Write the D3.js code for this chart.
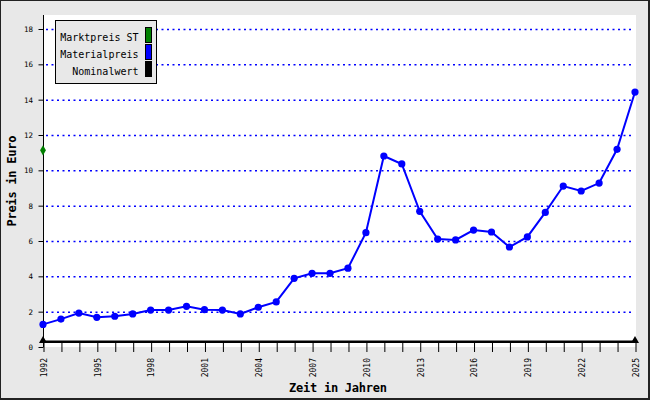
<!DOCTYPE html>
<html><head><meta charset="utf-8">
<script src="https://cdn.jsdelivr.net/npm/d3@7"></script>
<style>body{margin:0;background:#fff}svg{display:block}</style>
</head><body>
<svg id="c" width="650" height="400"></svg>
<script>
const years = d3.range(1992, 2026);
const materialpreis = [1.28,1.58,1.92,1.68,1.74,1.87,2.09,2.09,2.30,2.11,2.09,1.87,2.25,2.55,3.89,4.17,4.17,4.46,6.47,10.81,10.36,7.68,6.11,6.06,6.62,6.51,5.66,6.23,7.62,9.11,8.83,9.28,11.19,14.43];
const marktpreisYears = [1992];
const marktpreisST = [11.13];
const nominalYears = [1992, 2025];
const nominalwert = [0.3, 0.3];
const yTicks = [0,2,4,6,8,10,12,14,16,18];
const xLabelYears = [1992,1995,1998,2001,2004,2007,2010,2013,2016,2019,2022,2025];
const legendLabels = ["Marktpreis ST","Materialpreis","Nominalwert"];
const legendColors = ["#008000","#0000ff","#000000"];

const svg = d3.select("#c");
const W = 650, H = 400;
const x = d3.scaleLinear().domain([1992, 2025]).range([43, 635]);
const y = d3.scaleLinear().domain([0, 18]).range([347, 29]);
const mono = "'DejaVu Sans Mono', 'Liberation Mono', monospace";

// background
svg.append("rect").attr("x",0).attr("y",0).attr("width",W).attr("height",H).attr("fill","#e8e8e8");
svg.append("rect").attr("x",0.5).attr("y",0.5).attr("width",W-2).attr("height",H-2)
  .attr("fill","none").attr("stroke","#222").attr("stroke-width",1);
svg.append("rect").attr("x",W-2).attr("y",0).attr("width",2).attr("height",H).attr("fill","#222");
svg.append("rect").attr("x",0).attr("y",H-2).attr("width",W).attr("height",2).attr("fill","#222");
// plot area
svg.append("rect").attr("x",43).attr("y",15).attr("width",636-43).attr("height",347-15).attr("fill","#fff");

// grid
svg.append("g").selectAll("line").data(yTicks.filter(d=>d>0)).join("line")
  .attr("x1",46).attr("x2",633).attr("y1",d=>y(d)+0.5).attr("y2",d=>y(d)+0.5)
  .attr("stroke","#0000ff").attr("stroke-width",1.5).attr("stroke-dasharray","2,3.5");

// y axis
const yAxis = d3.axisLeft(y).tickValues(yTicks).tickSize(5).tickFormat(d3.format("d"));
const gy = svg.append("g").attr("transform","translate(43.5,0)").call(yAxis);
gy.select(".domain").attr("d","M0,15V347").attr("stroke","#000");
gy.selectAll(".tick line").attr("stroke","#000");
gy.selectAll(".tick text").attr("font-family",mono).attr("font-size",7.5).attr("fill","#000").attr("x",-10.5).attr("dy","0.35em");

// x axis (ticks only)
const xAxis = d3.axisBottom(x).tickValues(years).tickSize(10).tickFormat(d => xLabelYears.includes(d) ? d : "");
const gx = svg.append("g").attr("transform","translate(0.5,342)").call(xAxis);
gx.select(".domain").remove();
gx.selectAll(".tick line").attr("stroke","#000");
gx.selectAll(".tick text").attr("font-family",mono).attr("font-size",8).attr("fill","#000")
  .attr("transform","rotate(-90)").attr("text-anchor","end").attr("x",-16).attr("y",0).attr("dy","0.35em");

// nominalwert
svg.append("path").datum(nominalYears.map((d,i)=>[d,nominalwert[i]]))
  .attr("d", d3.line().x(d=>x(d[0])).y(d=>y(d[1])))
  .attr("stroke","#000").attr("stroke-width",2.5).attr("fill","none");
svg.append("g").selectAll("path").data(nominalYears.map((d,i)=>[d,nominalwert[i]])).join("path")
  .attr("d", d3.symbol(d3.symbolTriangle, 28))
  .attr("transform", d=>`translate(${x(d[0])},${y(d[1])-1})`).attr("fill","#000");

// materialpreis
const mp = years.map((d,i)=>[d, materialpreis[i]]);
svg.append("path").datum(mp).attr("d", d3.line().x(d=>x(d[0])).y(d=>y(d[1])))
  .attr("stroke","#0000ff").attr("stroke-width",2).attr("fill","none");
svg.append("g").selectAll("circle").data(mp).join("circle")
  .attr("cx",d=>x(d[0])).attr("cy",d=>y(d[1])).attr("r",3.6).attr("fill","#0000ff");

// marktpreis
svg.append("g").selectAll("path").data(marktpreisYears.map((d,i)=>[d,marktpreisST[i]])).join("path")
  .attr("d", d3.symbol(d3.symbolDiamond, 30))
  .attr("transform", d=>`translate(${x(d[0])},${y(d[1])})`).attr("fill","#008000");

// legend
const lg = svg.append("g");
lg.append("rect").attr("x",55.5).attr("y",20.5).attr("width",101).attr("height",63)
  .attr("fill","#e8e8e8").attr("stroke","#000");
legendLabels.forEach((t,i)=>{
  lg.append("text").attr("x",138.5).attr("y",37+i*17).attr("dy","0.35em").attr("text-anchor","end")
    .attr("font-family",mono).attr("font-size",10).attr("fill","#000").text(t);
  lg.append("rect").attr("x",145.5).attr("y",27.5+i*17).attr("width",6).attr("height",15)
    .attr("fill",legendColors[i]).attr("stroke","#000");
});

// axis titles
svg.append("text").attr("x",338).attr("y",392).attr("text-anchor","middle")
  .attr("font-family",mono).attr("font-weight","bold").attr("font-size",12).attr("fill","#000")
  .attr("textLength",98).text("Zeit in Jahren");
svg.append("text").attr("transform","translate(16,181) rotate(-90)").attr("text-anchor","middle")
  .attr("font-family",mono).attr("font-weight","bold").attr("font-size",12).attr("fill","#000")
  .attr("textLength",91).text("Preis in Euro");
</script>
</body></html>
